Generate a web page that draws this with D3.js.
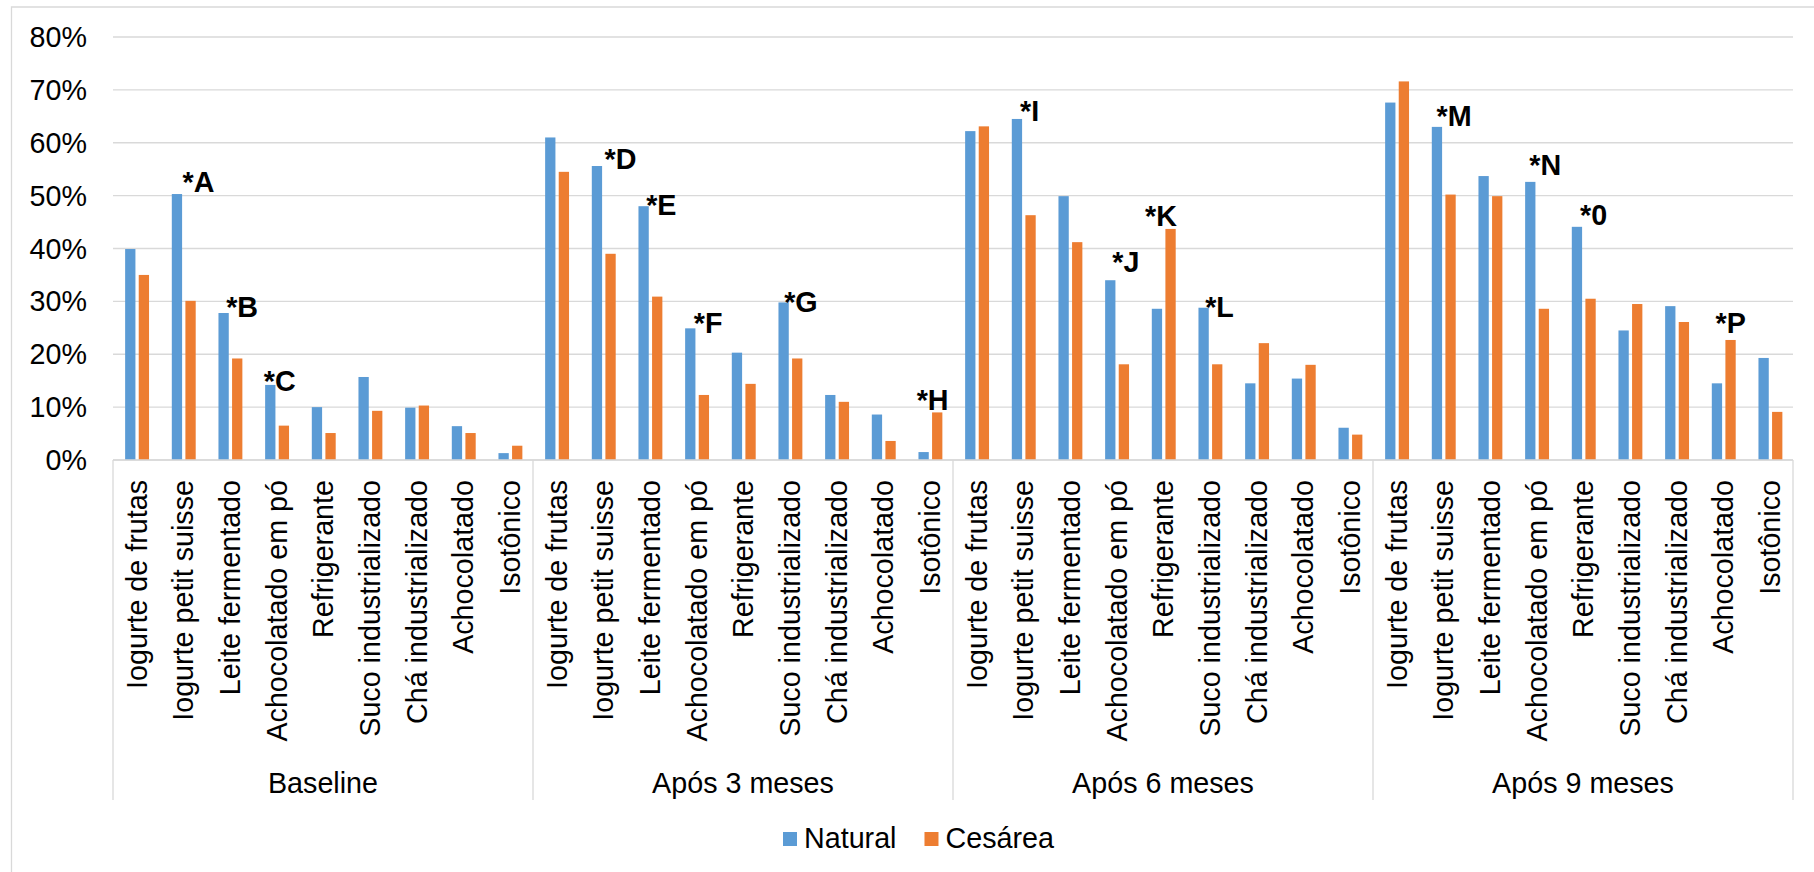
<!DOCTYPE html>
<html>
<head>
<meta charset="utf-8">
<script src="https://cdn.jsdelivr.net/npm/d3@7"></script>
<style>
  html, body { margin: 0; padding: 0; background: #fff; }
  svg { display: block; }
  text { font-family: "Liberation Sans", Arial, sans-serif; fill: #000; }
</style>
</head>
<body>
<svg id="chart" width="1814" height="872"></svg>
<script>
// Beverage consumption (%) by delivery type, at each follow-up point
const periods = ["Baseline", "Após 3 meses", "Após 6 meses", "Após 9 meses"];
const categories = [
  "Iogurte de frutas", "Iogurte petit suisse", "Leite fermentado",
  "Achocolatado em pó", "Refrigerante", "Suco industrializado",
  "Chá industrializado", "Achocolatado", "Isotônico"
];
const series = ["Natural", "Cesárea"];

const natural = [
  [39.9, 50.3, 27.8, 14.2, 10.0, 15.7, 9.9, 6.4, 1.3],
  [61.0, 55.6, 48.0, 24.9, 20.3, 29.8, 12.3, 8.6, 1.5],
  [62.2, 64.5, 49.9, 34.0, 28.6, 28.8, 14.5, 15.4, 6.1],
  [67.6, 63.0, 53.7, 52.6, 44.1, 24.5, 29.1, 14.5, 19.3]
];
const cesarea = [
  [35.0, 30.1, 19.2, 6.5, 5.1, 9.3, 10.3, 5.1, 2.7],
  [54.5, 39.0, 30.9, 12.3, 14.4, 19.2, 11.0, 3.6, 9.0],
  [63.1, 46.3, 41.2, 18.1, 43.7, 18.1, 22.1, 18.0, 4.8],
  [71.6, 50.2, 49.9, 28.6, 30.5, 29.5, 26.1, 22.7, 9.1]
];

const yTicks = [0, 10, 20, 30, 40, 50, 60, 70, 80];

// Significance markers: text, period index, category index, series it sits on
const markers = [
  ["*A", 0, 1, "Natural"], ["*B", 0, 2, "Natural"], ["*C", 0, 3, "Natural"],
  ["*D", 1, 1, "Natural"], ["*E", 1, 2, "Natural"], ["*F", 1, 3, "Natural"],
  ["*G", 1, 5, "Natural"], ["*H", 1, 8, "Cesárea"],
  ["*I", 2, 1, "Natural"], ["*J", 2, 3, "Natural"], ["*K", 2, 4, "Cesárea"],
  ["*L", 2, 5, "Natural"],
  ["*M", 3, 1, "Natural"], ["*N", 3, 3, "Natural"], ["*0", 3, 4, "Natural"],
  ["*P", 3, 7, "Cesárea"]
];
// Hand placement of each marker relative to category centre / bar top (px)
const markerNudge = [
  [-0.5, -2], [-3.5, 3.5], [-12.5, 6.5],
  [1.5, 2.5], [-3.5, 9], [-2.5, 5],
  [-5.5, 9.5], [-13, -2.5],
  [-3, 2], [-4, -8.5], [-18, -2.5],
  [-4.5, 9],
  [-6.5, -0.5], [-7, -6.5], [-3, -2],
  [-7.5, -7]
];

const colors = { "Natural": "#5b9bd5", "Cesárea": "#ed7d31" };
const gridColor = "#d9d9d9";
const fontSize = 28.7;

const svg = d3.select("#chart");
const plot = { left: 113, right: 1793, top: 37, bottom: 460 };

// Outer chart-area border (top and left edges visible)
svg.append("path")
  .attr("d", `M11.5,872 L11.5,7 L1814,7`)
  .attr("fill", "none").attr("stroke", gridColor).attr("stroke-width", 1.3);

const y = d3.scaleLinear().domain([0, 80]).range([plot.bottom, plot.top]);
const xGroup = d3.scaleBand().domain(periods).range([plot.left, plot.right]).padding(0);
const xCat = d3.scaleBand().domain(categories).range([0, xGroup.bandwidth()]).padding(0);
const xSeries = d3.scaleBand().domain(series).range([-11.2, 12.7]).paddingInner(0.243);

const catCenter = (p, c) => xGroup(periods[p]) + xCat(categories[c]) + xCat.bandwidth() / 2;

// Gridlines
svg.append("g").selectAll("line").data(yTicks).join("line")
  .attr("x1", plot.left).attr("x2", plot.right)
  .attr("y1", d => y(d)).attr("y2", d => y(d))
  .attr("stroke", gridColor).attr("stroke-width", 1.3);

// Y axis labels
svg.append("g").selectAll("text").data(yTicks).join("text")
  .attr("x", 87).attr("y", d => y(d)).attr("dy", "0.35em")
  .attr("text-anchor", "end").attr("font-size", fontSize)
  .text(d => d + "%");

// Bars
const rows = [];
periods.forEach((p, pi) => categories.forEach((c, ci) => {
  rows.push({ pi, ci, s: "Natural", v: natural[pi][ci] });
  rows.push({ pi, ci, s: "Cesárea", v: cesarea[pi][ci] });
}));
svg.append("g").selectAll("rect").data(rows).join("rect")
  .attr("x", d => catCenter(d.pi, d.ci) + xSeries(d.s))
  .attr("width", xSeries.bandwidth())
  .attr("y", d => y(d.v))
  .attr("height", d => y(0) - y(d.v))
  .attr("fill", d => colors[d.s]);

// Category axis line and group separators
svg.append("line")
  .attr("x1", plot.left).attr("x2", plot.right)
  .attr("y1", y(0)).attr("y2", y(0))
  .attr("stroke", gridColor).attr("stroke-width", 1.3);
const sepX = periods.map(p => xGroup(p)).concat([plot.right]);
svg.append("g").selectAll("line").data(sepX).join("line")
  .attr("x1", d => d).attr("x2", d => d)
  .attr("y1", y(0)).attr("y2", 800)
  .attr("stroke", gridColor).attr("stroke-width", 1.3);

// Rotated category labels
const labelRows = [];
periods.forEach((p, pi) => categories.forEach((c, ci) => labelRows.push({ pi, ci, c })));
svg.append("g").selectAll("text").data(labelRows).join("text")
  .attr("transform", d => `translate(${catCenter(d.pi, d.ci)},480) rotate(-90)`)
  .attr("dy", "0.36em")
  .attr("text-anchor", "end").attr("font-size", fontSize)
  .text(d => d.c);

// Period labels
svg.append("g").selectAll("text").data(periods).join("text")
  .attr("x", d => xGroup(d) + xGroup.bandwidth() / 2).attr("y", 793)
  .attr("text-anchor", "middle").attr("font-size", fontSize)
  .text(d => d);

// Significance markers
svg.append("g").selectAll("text").data(markers).join("text")
  .attr("x", (d, i) => catCenter(d[1], d[2]) + markerNudge[i][0])
  .attr("y", (d, i) => {
    const v = d[3] === "Natural" ? natural[d[1]][d[2]] : cesarea[d[1]][d[2]];
    return y(v) + markerNudge[i][1];
  })
  .attr("font-size", fontSize).attr("font-weight", "bold")
  .text(d => d[0]);

// Legend
const legend = svg.append("g");
let lx = 783;
series.forEach(s => {
  legend.append("rect").attr("x", lx).attr("y", 832).attr("width", 14).attr("height", 14)
    .attr("fill", colors[s]);
  const t = legend.append("text").attr("x", lx + 21).attr("y", 848)
    .attr("font-size", fontSize).text(s);
  lx += 21 + t.node().getComputedTextLength() + 28;
});
</script>
</body>
</html>
